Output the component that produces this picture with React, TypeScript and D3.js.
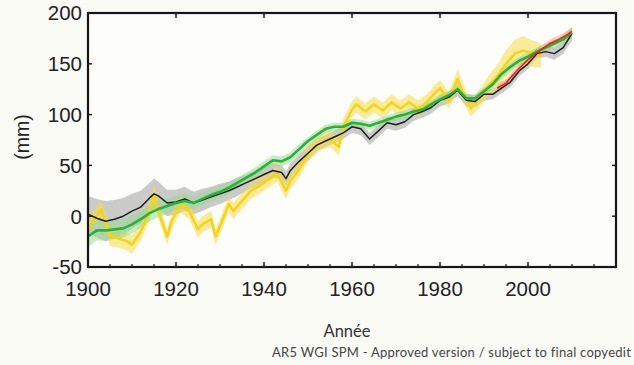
import React from "react";
import * as d3 from "d3";

// Tick labels
const xTicks = [1900, 1920, 1940, 1960, 1980, 2000];
const xMinorTicks = [1905, 1910, 1915, 1925, 1930, 1935, 1945, 1950, 1955, 1965, 1970, 1975, 1985, 1990, 1995, 2005, 2010, 2015];
const yTicks = [-50, 0, 50, 100, 150, 200];

// [year, value (mm), uncertainty (mm)]
const blackSeries: [number, number, number][] = [
  [1900, 2, 18], [1902, -2, 19], [1904, -5, 20], [1906, -3, 19], [1908, 0, 18], [1910, 5, 17],
  [1912, 9, 16], [1914, 18, 15], [1915, 22, 15], [1916, 20, 14], [1918, 13, 13], [1920, 14, 12],
  [1922, 17, 12], [1924, 13, 11], [1926, 16, 11], [1928, 19, 10], [1930, 22, 10], [1932, 25, 9],
  [1934, 29, 9], [1936, 33, 8], [1938, 37, 8], [1940, 41, 8], [1942, 45, 7], [1944, 43, 7],
  [1945, 37, 7], [1946, 45, 7], [1948, 54, 7], [1950, 62, 7], [1952, 70, 6], [1954, 74, 6],
  [1956, 78, 6], [1958, 82, 6], [1960, 88, 6], [1962, 86, 6], [1964, 76, 6], [1966, 84, 6],
  [1968, 92, 6], [1970, 90, 6], [1972, 93, 6], [1974, 100, 6], [1976, 103, 6], [1978, 107, 6],
  [1980, 114, 6], [1982, 117, 6], [1984, 124, 6], [1986, 114, 6], [1988, 113, 6], [1990, 120, 6],
  [1992, 120, 5], [1994, 126, 5], [1996, 132, 5], [1998, 143, 5], [2000, 150, 5], [2002, 160, 5],
  [2004, 162, 5], [2006, 160, 6], [2008, 166, 6], [2010, 180, 7],
];

const greenSeries: [number, number, number][] = [
  [1900, -20, 10], [1902, -14, 10], [1904, -14, 10], [1906, -13, 9], [1908, -12, 9], [1910, -8, 9],
  [1912, -3, 8], [1914, 3, 8], [1916, 7, 8], [1918, 10, 7], [1920, 13, 7], [1922, 15, 7],
  [1924, 13, 6], [1926, 17, 6], [1928, 21, 6], [1930, 24, 6], [1932, 28, 6], [1934, 33, 5],
  [1936, 38, 5], [1938, 43, 5], [1940, 49, 5], [1942, 55, 5], [1944, 54, 5], [1946, 58, 5],
  [1948, 66, 5], [1950, 74, 4], [1952, 80, 4], [1954, 86, 4], [1956, 88, 4], [1958, 88, 4],
  [1960, 92, 4], [1962, 91, 4], [1964, 89, 4], [1966, 92, 4], [1968, 95, 4], [1970, 98, 4],
  [1972, 100, 4], [1974, 103, 4], [1976, 105, 4], [1978, 110, 4], [1980, 115, 4], [1982, 119, 4],
  [1984, 125, 4], [1986, 116, 4], [1988, 116, 4], [1990, 123, 4], [1992, 130, 4], [1994, 140, 4],
  [1996, 147, 4], [1998, 153, 4], [2000, 157, 4], [2002, 162, 4], [2004, 166, 4], [2006, 170, 4],
  [2008, 174, 4], [2010, 181, 5],
];

const yellowSeries: [number, number, number][] = [
  [1900, -12, 9], [1901, -5, 9], [1903, 7, 9], [1905, -20, 9], [1907, -22, 9], [1909, -25, 9],
  [1910, -28, 9], [1912, -15, 9], [1914, 5, 9], [1915, 22, 8], [1916, 5, 8], [1918, -20, 8],
  [1919, -5, 8], [1921, 12, 8], [1923, 5, 8], [1925, -13, 8], [1926, -8, 8], [1928, -3, 8],
  [1929, -20, 8], [1930, -10, 8], [1932, 12, 8], [1933, 5, 8], [1935, 15, 8], [1937, 25, 8],
  [1939, 30, 8], [1941, 36, 8], [1943, 42, 8], [1945, 25, 8], [1946, 35, 8], [1948, 46, 8],
  [1950, 62, 8], [1951, 66, 8], [1953, 73, 8], [1955, 76, 8], [1957, 68, 8], [1958, 88, 8],
  [1960, 105, 8], [1961, 110, 8], [1963, 103, 8], [1965, 110, 8], [1967, 104, 8], [1969, 112, 8],
  [1971, 106, 8], [1973, 112, 8], [1975, 106, 8], [1977, 112, 8], [1979, 122, 8], [1980, 126, 8],
  [1982, 114, 8], [1984, 135, 10], [1986, 114, 8], [1987, 106, 8], [1989, 116, 9], [1991, 128, 10],
  [1993, 138, 11], [1995, 150, 13], [1997, 160, 14], [1999, 163, 14], [2001, 160, 13], [2003, 158, 12],
];

const redSeries: [number, number, number][] = [
  [1993, 126, 4], [1995, 131, 4], [1997, 141, 4], [1999, 150, 4], [2001, 158, 4],
  [2003, 164, 4], [2005, 170, 4], [2007, 174, 4], [2009, 179, 4], [2010, 182, 4],
];

const W = 634;
const H = 365;
const left = 88, right = 616, top = 13, bottom = 267;

export default function App() {
  const x = d3.scaleLinear().domain([1900, 2020]).range([left, right]);
  const y = d3.scaleLinear().domain([-50, 200]).range([bottom, top]);

  const line = d3
    .line<[number, number, number]>()
    .x((d) => x(d[0]))
    .y((d) => y(d[1]));
  const band = d3
    .area<[number, number, number]>()
    .x((d) => x(d[0]))
    .y0((d) => y(d[1] - d[2]))
    .y1((d) => y(d[1] + d[2]));

  const tickFont = "'Liberation Sans', Arial, Helvetica, sans-serif";

  return (
    <svg
      width={W}
      height={H}
      style={{ position: "absolute", left: 0, top: 0, display: "block" }}
    >
      <rect x={0} y={0} width={W} height={H} fill="#fbfbf6" />
      <rect x={left} y={top} width={right - left} height={bottom - top} fill="#fdfdfa" />

      {/* bands */}
      <path d={band(blackSeries) || ""} fill="#a9a9a9" opacity={0.6} />
      <path d={band(yellowSeries) || ""} fill="#f7dd4a" opacity={0.55} />
      <path d={band(greenSeries) || ""} fill="#8edc8a" opacity={0.5} />
      <path d={band(redSeries) || ""} fill="#f5a070" opacity={0.45} />

      {/* lines */}
      <path d={line(yellowSeries) || ""} fill="none" stroke="#f2d51c" strokeWidth={2.6} strokeLinejoin="round" />
      <path d={line(blackSeries) || ""} fill="none" stroke="#1e1e1e" strokeWidth={1.5} strokeLinejoin="round" />
      <path d={line(greenSeries) || ""} fill="none" stroke="#2fae3e" strokeWidth={2.6} strokeLinejoin="round" />
      <path d={line(redSeries) || ""} fill="none" stroke="#e3291f" strokeWidth={1.6} strokeLinejoin="round" />

      {/* frame */}
      <rect
        x={left}
        y={top}
        width={right - left}
        height={bottom - top}
        fill="none"
        stroke="#161616"
        strokeWidth={2.2}
      />

      {/* x ticks */}
      {xTicks.map((t) => (
        <g key={"xt" + t}>
          <line x1={x(t)} x2={x(t)} y1={bottom} y2={bottom - 5} stroke="#1a1a1a" strokeWidth={1.5} />
          <line x1={x(t)} x2={x(t)} y1={top} y2={top + 5} stroke="#1a1a1a" strokeWidth={1.5} />
          <text
            x={x(t)}
            y={296}
            textAnchor="middle"
            fontFamily={tickFont}
            fontSize={20.5}
            fill="#222"
          >
            {t}
          </text>
        </g>
      ))}
      {xMinorTicks.map((t) => (
        <line key={"xm" + t} x1={x(t)} x2={x(t)} y1={bottom} y2={bottom - 3} stroke="#1a1a1a" strokeWidth={1.2} />
      ))}

      {/* y ticks */}
      {yTicks.map((t) => (
        <g key={"yt" + t}>
          <line x1={left} x2={left + 4} y1={y(t)} y2={y(t)} stroke="#1a1a1a" strokeWidth={1.5} />
          <line x1={right} x2={right - 4} y1={y(t)} y2={y(t)} stroke="#1a1a1a" strokeWidth={1.5} />
          <text
            x={left - 6}
            y={y(t)}
            dy="0.36em"
            textAnchor="end"
            fontFamily={tickFont}
            fontSize={20.5}
            fill="#222"
          >
            {t}
          </text>
        </g>
      ))}

      {/* y label */}
      <text
        transform={`translate(29, ${(top + bottom) / 2 - 3}) rotate(-90)`}
        textAnchor="middle"
        fontFamily={tickFont}
        fontSize={19.5}
        fill="#222"
      >
        (mm)
      </text>

      {/* x label */}
      <text
        x={347}
        y={337}
        textAnchor="middle"
        fontFamily="Lato, 'Open Sans', sans-serif"
        fontSize={16.5}
        fill="#333"
      >
        Année
      </text>

      {/* caption */}
      <text
        x={272}
        y={357}
        fontFamily="Lato, 'Open Sans', sans-serif"
        fontSize={13}
        letterSpacing={0.25}
        fill="#444"
      >
        AR5 WGI SPM - Approved version / subject to final copyedit
      </text>
    </svg>
  );
}
